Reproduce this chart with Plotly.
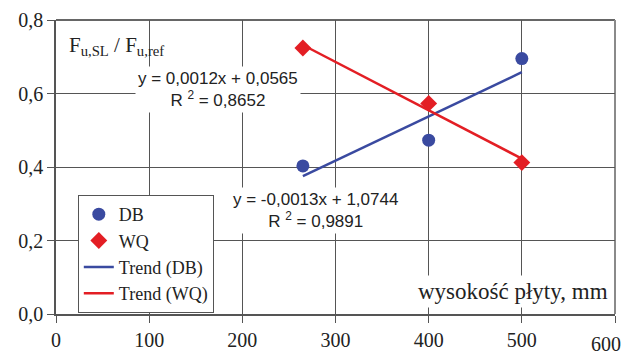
import numpy as np
import plotly.graph_objects as go

x_db = [265, 400, 500]
y_db = [0.403, 0.473, 0.695]
x_wq = [265, 400, 500]
y_wq = [0.724, 0.573, 0.412]
x_ticks = [0, 100, 200, 300, 400, 500, 600]
y_ticks = [0.0, 0.2, 0.4, 0.6, 0.8]

BLUE = "#3a4aa0"
RED = "#e31e24"
SERIF = "Liberation Serif"
SANS = "Liberation Sans"

p_db = np.polyfit(x_db, y_db, 1)
p_wq = np.polyfit(x_wq, y_wq, 1)
xt = np.array([min(x_db), max(x_db)])

fig = go.Figure()
fig.add_trace(go.Scatter(x=x_db, y=y_db, mode="markers", name="DB",
                         marker=dict(symbol="circle", size=13, color=BLUE)))
fig.add_trace(go.Scatter(x=x_wq, y=y_wq, mode="markers", name="WQ",
                         marker=dict(symbol="diamond", size=13, color=RED)))
fig.add_trace(go.Scatter(x=xt, y=np.polyval(p_db, xt), mode="lines", name="Trend (DB)",
                         line=dict(color=BLUE, width=2.5)))
fig.add_trace(go.Scatter(x=xt, y=np.polyval(p_wq, xt), mode="lines", name="Trend (WQ)",
                         line=dict(color=RED, width=2.5)))

# frame top and right
fig.add_shape(type="line", xref="paper", yref="paper", x0=0, x1=1, y0=1, y1=1,
              line=dict(color="#333333", width=1.5), layer="below")
fig.add_shape(type="line", xref="paper", yref="paper", x0=1, x1=1, y0=0, y1=1,
              line=dict(color="#8a8a8a", width=2), layer="below")

fig.add_annotation(x=0.02, y=0.91, xref="paper", yref="paper", xanchor="left", yanchor="middle",
                   text="F<sub>u,SL</sub> / F<sub>u,ref</sub>", showarrow=False,
                   font=dict(family=SERIF, size=21, color="#222"))
fig.add_annotation(x=174, y=0.612, xref="x", yref="y",
                   text="y = 0,0012x + 0,0565<br>R <sup>2</sup> = 0,8652", showarrow=False,
                   font=dict(family=SANS, size=17, color="#222"), bgcolor="white",
                   align="center", borderpad=2)
fig.add_annotation(x=279, y=0.283, xref="x", yref="y",
                   text="y = -0,0013x + 1,0744<br>R <sup>2</sup> = 0,9891", showarrow=False,
                   font=dict(family=SANS, size=17, color="#222"), bgcolor="white",
                   align="center", borderpad=2)
fig.add_annotation(x=0.995, y=0.075, xref="paper", yref="paper", xanchor="right", yanchor="middle",
                   text="wysokość płyty, mm", showarrow=False,
                   font=dict(family=SERIF, size=23, color="#222"), bgcolor="white", borderpad=3)
# last x tick label placed so it stays inside the visible page
fig.add_annotation(x=1.0143, y=-0.102, xref="paper", yref="paper", xanchor="right", yanchor="middle",
                   text=str(x_ticks[-1]), showarrow=False,
                   font=dict(family=SERIF, size=20, color="#222"))

axis_common = dict(showgrid=True, gridcolor="#555555", gridwidth=1,
                   showline=True, linecolor="#555555", linewidth=1.5,
                   ticks="outside", ticklen=7, tickcolor="#555555",
                   zeroline=False, automargin=False,
                   tickfont=dict(family=SERIF, size=20, color="#222"))

fig.update_layout(
    width=623, height=346,
    margin=dict(l=48, r=16, t=12, b=40),
    plot_bgcolor="white", paper_bgcolor="white",
    separators=", ",
    xaxis=dict(range=[0, 600], tickvals=x_ticks,
               ticktext=[str(v) for v in x_ticks[:-1]] + [""], **axis_common),
    yaxis=dict(range=[0, 0.8], tickvals=y_ticks, tickformat=".1f", **axis_common),
    legend=dict(x=0.039, y=0.405, xanchor="left", yanchor="top",
                bgcolor="white", bordercolor="#555555", borderwidth=1,
                font=dict(family=SERIF, size=18, color="#222"),
                itemwidth=30, tracegroupgap=0),
    showlegend=True,
)

fig.write_html("out.html")
